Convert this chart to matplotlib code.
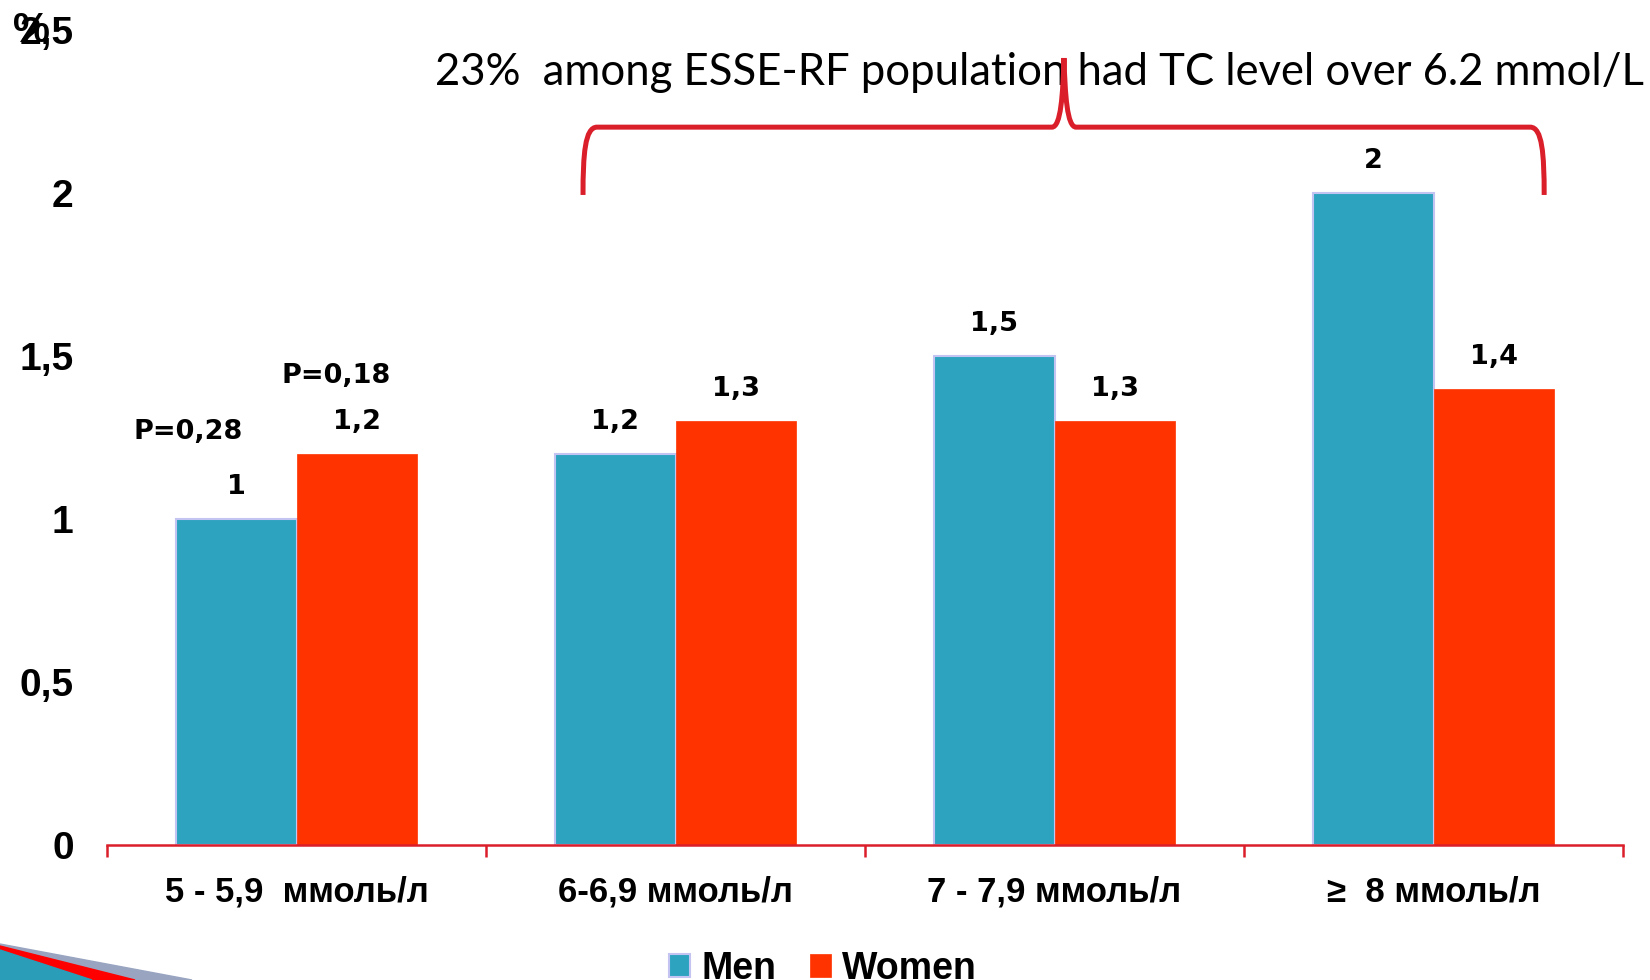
import matplotlib
matplotlib.use("Agg")
import matplotlib.pyplot as plt
from matplotlib.path import Path
from matplotlib.patches import PathPatch, Polygon
import numpy as np

categories = ["5 - 5,9  ммоль/л", "6-6,9 ммоль/л", "7 - 7,9 ммоль/л", "≥  8 ммоль/л"]
men = [1.0, 1.2, 1.5, 2.0]
women = [1.2, 1.3, 1.3, 1.4]
men_labels = ["1", "1,2", "1,5", "2"]
women_labels = ["1,2", "1,3", "1,3", "1,4"]
yticks = [0, 0.5, 1, 1.5, 2, 2.5]
ytick_labels = ["0", "0,5", "1", "1,5", "2", "2,5"]
pvals = ["P=0,28", "P=0,18"]
pval_pos = [(-0.286, 1.267), (0.104, 1.439)]
note = "23%  among ESSE-RF population had TC level over 6.2 mmol/L"

c_men = "#2DA3C0"
c_women = "#FF3300"
c_red = "#DA1F2B"

plt.rcParams["font.family"] = ["Liberation Sans", "DejaVu Sans"]

W, H = 1650, 980
fig = plt.figure(figsize=(W / 100, H / 100), dpi=100)
ax = fig.add_axes([107 / W, 135 / H, 1516 / W, 815 / H])

x = np.arange(len(categories))
bw = 0.317
ax.bar(x - bw / 2, men, bw, color=c_men, edgecolor="#C4C4F2", linewidth=1.5, label="Men", zorder=2)
ax.bar(x + bw / 2, women, bw, color=c_women, edgecolor=c_women, linewidth=0.5, label="Women", zorder=2)

for i in range(len(x)):
    ax.annotate(men_labels[i], (x[i] - bw / 2, men[i]), xytext=(0, 23), textcoords="offset points",
                ha="center", va="center", fontsize=19.5, fontweight="bold", family="DejaVu Sans")
    ax.annotate(women_labels[i], (x[i] + bw / 2, women[i]), xytext=(0, 23), textcoords="offset points",
                ha="center", va="center", fontsize=19.5, fontweight="bold", family="DejaVu Sans")
for t, (px, py) in zip(pvals, pval_pos):
    ax.text(px, py, t, ha="center", va="center", fontsize=19.5, fontweight="bold", family="DejaVu Sans")

ax.set_xlim(-0.5, len(categories) - 0.5)
ax.set_ylim(0, 2.5)
for s in ["left", "right", "top"]:
    ax.spines[s].set_visible(False)
ax.spines["bottom"].set_color(c_red)
ax.spines["bottom"].set_linewidth(1.8)

ax.set_yticks(yticks)
ax.set_yticklabels(ytick_labels, fontsize=28, fontweight="bold")
ax.tick_params(axis="y", length=0, pad=24)
ax.set_xticks(x)
ax.set_xticklabels(categories, fontsize=25, fontweight="bold")
ax.tick_params(axis="x", which="major", length=0, pad=22)
ax.set_xticks(np.arange(-0.5, len(categories), 1.0), minor=True)
ax.tick_params(axis="x", which="minor", length=8.6, width=1.8, color=c_red, direction="out")

# "%" sits on top of the 2,5 label, as in the slide
fig.text(31 / W, 1 - 31 / H, "%", ha="center", va="center", fontsize=30, fontweight="bold")

# red curly bracket over the last three groups
xl, xr, xm = 0.756, 3.292, 2.025
yb, yh, yt = 1.994, 2.202, 2.414
verts = [(xl, yb), (xl, yb + 0.6 * (yh - yb)), (xl + 0.005, yh), (xl + 0.037, yh),
         (xm - 0.032, yh),
         (xm - 0.008, yh), (xm - 0.003, yh + 0.1), (xm, yt),
         (xm + 0.003, yh + 0.1), (xm + 0.008, yh), (xm + 0.032, yh),
         (xr - 0.037, yh),
         (xr - 0.005, yh), (xr, yb + 0.6 * (yh - yb)), (xr, yb)]
codes = [Path.MOVETO, Path.CURVE4, Path.CURVE4, Path.CURVE4, Path.LINETO,
         Path.CURVE4, Path.CURVE4, Path.CURVE4, Path.CURVE4, Path.CURVE4, Path.CURVE4,
         Path.LINETO, Path.CURVE4, Path.CURVE4, Path.CURVE4]
ax.add_patch(PathPatch(Path(verts, codes), facecolor="none", edgecolor=c_red, lw=3.6,
                       capstyle="butt", clip_on=False, zorder=3))
ax.text(1.96, 2.37, note, ha="center", va="center", fontsize=31.4, family="Lato", zorder=2)

leg = fig.legend(loc="center", bbox_to_anchor=(823 / W, 11 / H), ncol=2, frameon=False,
                 prop={"size": 27, "weight": "bold"}, handlelength=0.55, handleheight=0.55,
                 handletextpad=0.3, columnspacing=0.9, borderpad=0)

# slide corner decoration
def fp(pts):
    return [(a / W, 1 - b / H) for a, b in pts]
fig.add_artist(Polygon(fp([(0, 944), (192, 980), (0, 980)]), closed=True, color="#98A4C0",
                       transform=fig.transFigure))
fig.add_artist(Polygon(fp([(0, 946), (135, 980), (0, 980)]), closed=True, color="#FF0000",
                       transform=fig.transFigure))
fig.add_artist(Polygon(fp([(0, 950), (92, 980), (0, 980)]), closed=True, color="#2A9DB8",
                       transform=fig.transFigure))

fig.savefig("out.png", dpi=100)
